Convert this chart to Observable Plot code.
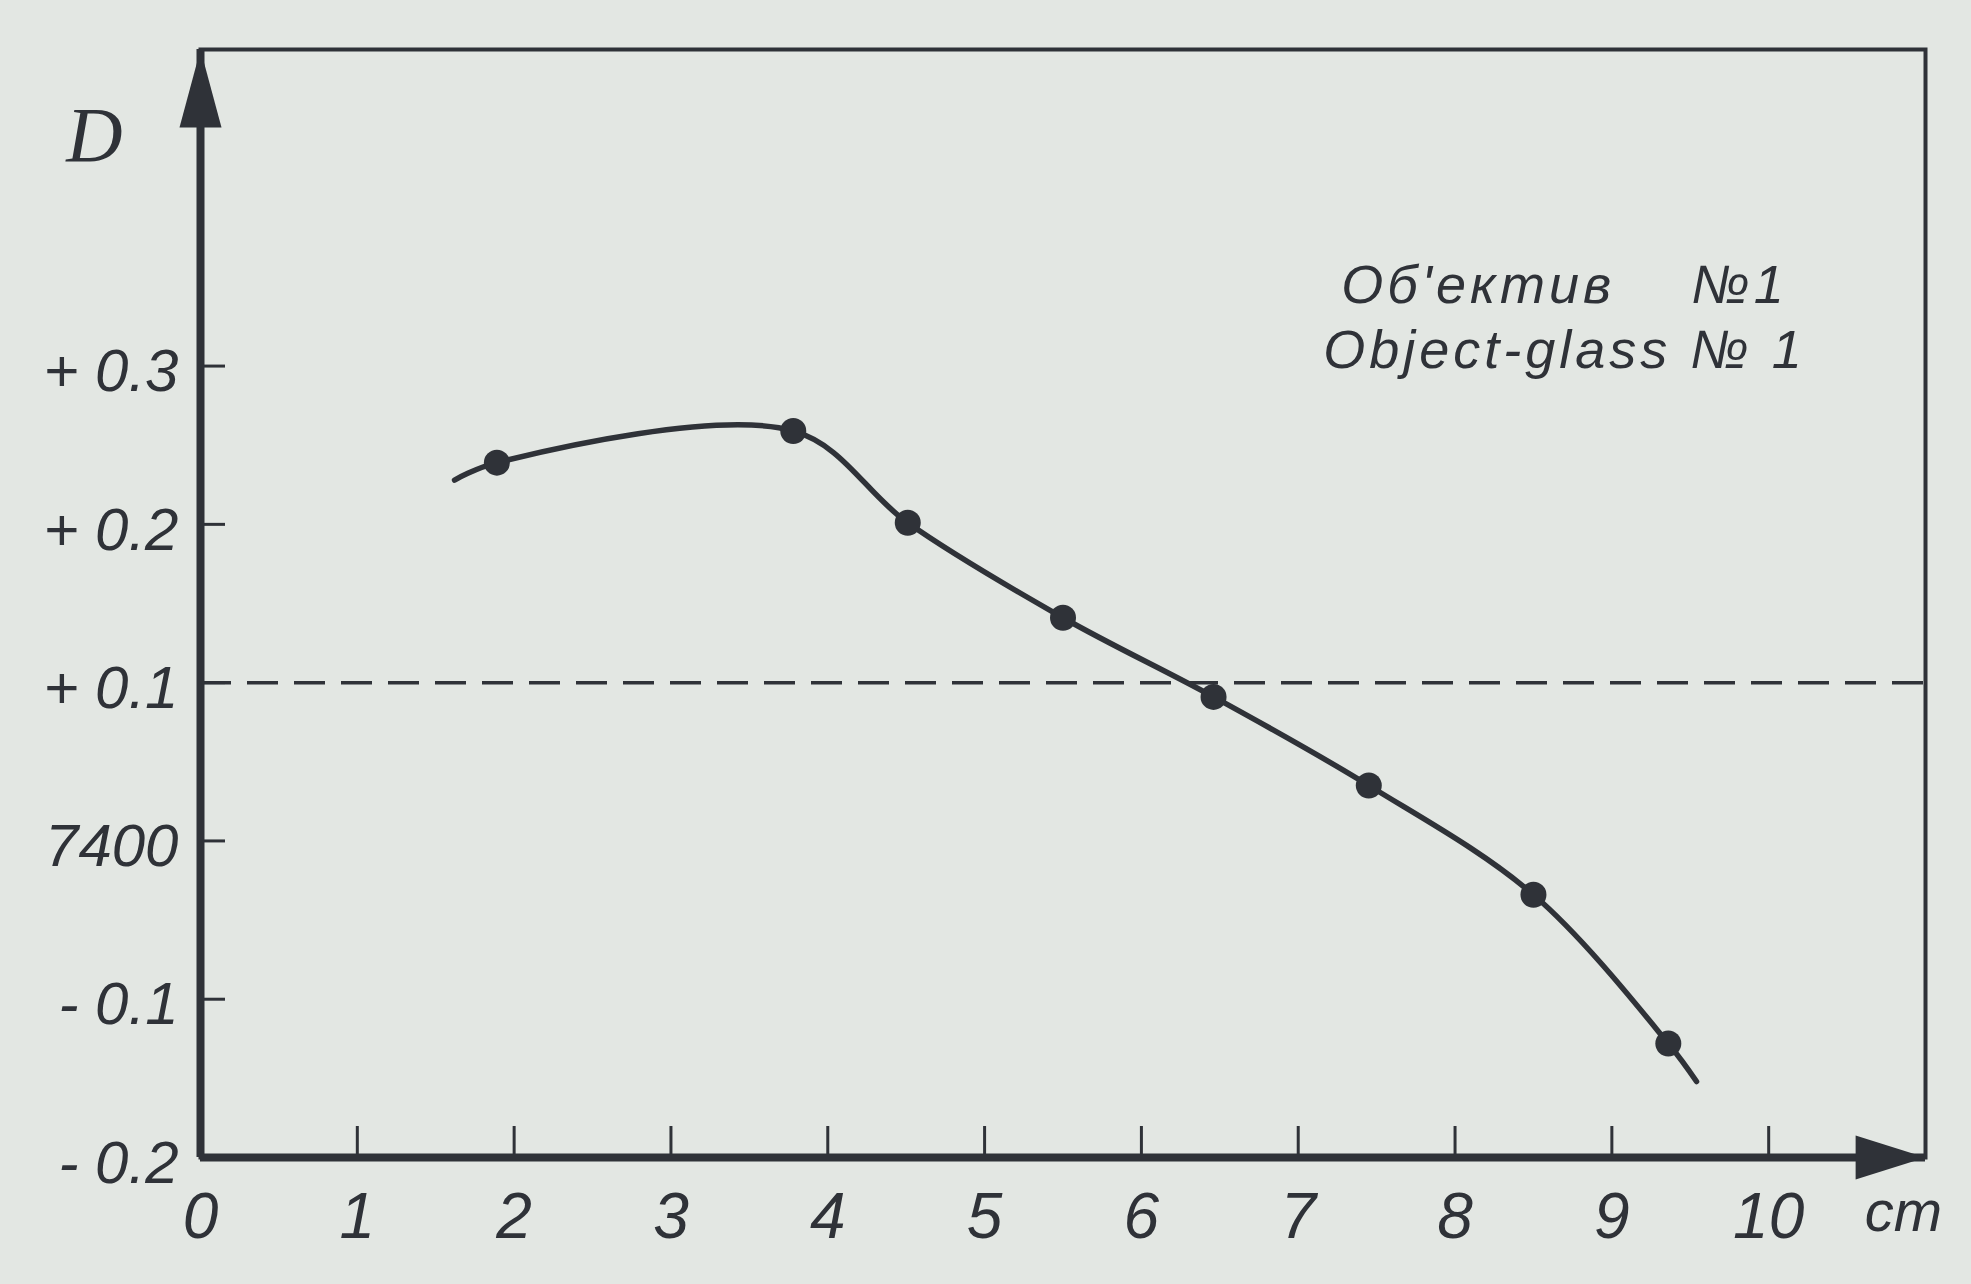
<!DOCTYPE html>
<html>
<head>
<meta charset="utf-8">
<script src="https://cdn.jsdelivr.net/npm/d3@7"></script>
<script src="https://cdn.jsdelivr.net/npm/@observablehq/plot@0.6"></script>
<style>
  html, body { margin: 0; padding: 0; background: #e3e7e3; }
  svg { display: block; }
</style>
</head>
<body>
<script>
// ---- data ----
const distanceCm = [1.89, 3.78, 4.51, 5.50, 6.46, 7.45, 8.50, 9.36];
const dValues    = [0.239, 0.259, 0.201, 0.141, 0.091, 0.035, -0.034, -0.128];
// the drawn curve extends a little beyond the first and last measured points
const curveCm = [1.62, ...distanceCm, 9.54];
const curveD  = [0.228, ...dValues, -0.152];
const referenceLevel = [0.1];

const xTickValues = [0, 1, 2, 3, 4, 5, 6, 7, 8, 9, 10];
const xTickLabels = ["0", "1", "2", "3", "4", "5", "6", "7", "8", "9", "10"];
const yTickValues = [-0.2, -0.1, 0, 0.1, 0.2, 0.3];
const yTickLabels = ["- 0.2", "- 0.1", "7400", "+ 0.1", "+ 0.2", "+ 0.3"];
const xDomain = [0, 11];
const yDomain = [-0.2, 0.5];
const yAxisLabel = ["D"];
const xUnitLabel = ["cm"];
const legendLines = ["Об'ектив\u00a0\u00a0\u00a0\u00a0№1", "Object-glass № 1"];

// ---- build ----
const ink = "#2f3238";
const font = "'Liberation Sans', 'DejaVu Sans', sans-serif";
const points = distanceCm.map((x, i) => ({x, y: dValues[i]}));
const curvePts = curveCm.map((x, i) => ({x, y: curveD[i]}));

function head(lenK, halfW) {
  return {
    draw(ctx, size) {
      const r = Math.sqrt(size / Math.PI);
      const L = lenK * r, w = halfW * r;
      ctx.moveTo(0, 0);
      ctx.lineTo(w, L);
      ctx.lineTo(-w, L);
      ctx.closePath();
    }
  };
}

const W = 1971, H = 1284;
const mL = 200, mR = 46, mT = 49, mB = 127;
const plotW = W - mL - mR, plotH = H - mT - mB;

const chart = Plot.plot({
  width: W,
  height: H,
  marginLeft: mL, marginRight: mR, marginTop: mT, marginBottom: mB,
  style: {background: "transparent", fontFamily: font, color: ink, fontStyle: "italic"},
  x: {domain: xDomain},
  y: {domain: yDomain},
  marks: [
    Plot.frame({stroke: ink, strokeWidth: 4}),
    Plot.ruleY(referenceLevel, {stroke: ink, strokeWidth: 3.5, strokeDasharray: "31,16"}),
    Plot.tickX(xTickValues.filter(v => v > 0), {x: d => d, insetTop: plotH - 31, stroke: ink, strokeWidth: 3}),
    Plot.tickY(yTickValues.filter(v => v > yDomain[0]), {y: d => d, insetRight: plotW - 25, stroke: ink, strokeWidth: 3}),
    Plot.ruleX([0], {stroke: ink, strokeWidth: 8}),
    Plot.ruleY([yDomain[0]], {stroke: ink, strokeWidth: 8}),
    Plot.dot([{x: 0, y: yDomain[1]}], {x: "x", y: "y", symbol: head(2.6, 0.7), r: 30, fill: ink, stroke: "none"}),
    Plot.dot([{x: xDomain[1], y: yDomain[0]}], {x: "x", y: "y", symbol: head(2.33, 0.73), r: 30, rotate: 90, fill: ink, stroke: "none"}),
    Plot.line(curvePts, {x: "x", y: "y", curve: "catmull-rom", stroke: ink, strokeWidth: 5.5}),
    Plot.dot(points, {x: "x", y: "y", r: 13, fill: ink, stroke: "none"}),
    Plot.axisX(xTickValues, {
      tickSize: 0, tickPadding: 35, fontSize: 64, label: null,
      tickFormat: d => xTickLabels[xTickValues.indexOf(d)]
    }),
    Plot.axisY(yTickValues, {
      tickSize: 0, tickPadding: 22, fontSize: 60, label: null, dy: 6,
      tickFormat: d => yTickLabels[yTickValues.indexOf(d)]
    }),
    Plot.text(yAxisLabel, {frameAnchor: "top-left", textAnchor: "middle", lineAnchor: "middle", dx: -106, dy: 87, fontSize: 78, fontFamily: "'Liberation Serif', serif", fill: ink}),
    Plot.text(xUnitLabel, {frameAnchor: "bottom-right", textAnchor: "middle", lineAnchor: "middle", dx: -22, dy: 55, fontSize: 58, fill: ink}),
    Plot.text([legendLines.join("\n")], {frameAnchor: "top-right", textAnchor: "middle", lineAnchor: "middle", dx: -361, dy: 265, lineHeight: 1.2, fontSize: 54, fill: ink})
  ]
});
d3.select(chart).selectAll("text").filter(function () {
  return this.textContent.includes("Object");
}).style("letter-spacing", "4px");
document.body.appendChild(chart);
</script>
</body>
</html>
